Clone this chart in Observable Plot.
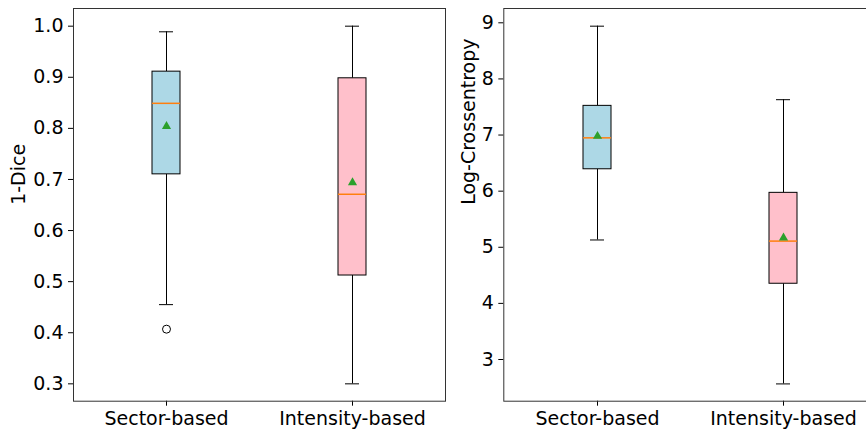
<!DOCTYPE html>
<html><head><meta charset="utf-8">
<script src="https://cdn.jsdelivr.net/npm/d3@7"></script>
<script src="https://cdn.jsdelivr.net/npm/@observablehq/plot@0.6"></script>
<style>
html,body{margin:0;padding:0;background:#fff;overflow:hidden;width:866px;height:430px;}
#wrap{position:relative;width:866px;height:430px;overflow:hidden;}
#wrap svg{position:absolute;top:0;}
</style></head><body><div id="wrap"></div>
<script>
const methods = ["Sector-based", "Intensity-based"];
const boxColors = ["#add8e6", "#ffc0cb"];

// Panel 1: 1-Dice
const diceLow    = [0.455, 0.300];
const diceQ1     = [0.710, 0.512];
const diceMedian = [0.849, 0.671];
const diceQ3     = [0.911, 0.898];
const diceHigh   = [0.989, 1.000];
const diceMean   = [0.804, 0.694];
const diceOutlierMethod = ["Sector-based"];
const diceOutlierValue  = [0.407];
const diceTicks = [0.3, 0.4, 0.5, 0.6, 0.7, 0.8, 0.9, 1.0];

// Panel 2: Log-Crossentropy
const ceLow    = [5.13, 2.565];
const ceQ1     = [6.39, 4.35];
const ceMedian = [6.95, 5.11];
const ceQ3     = [7.52, 5.97];
const ceHigh   = [8.94, 7.63];
const ceMean   = [6.98, 5.17];
const ceTicks = [3, 4, 5, 6, 7, 8, 9];

function rowsOf(lo, q1, med, q3, hi, mean) {
  return methods.map((m, i) => ({method: m, lo: lo[i], q1: q1[i], med: med[i], q3: q3[i], hi: hi[i], mean: mean[i]}));
}

function panel({rows, outliers, yDomain, ticks, tickFormat, label, labelDx, width, marginLeft, marginRight}) {
  return Plot.plot({
    width, height: 430,
    marginLeft, marginRight, marginTop: 8, marginBottom: 29.3,
    style: {fontFamily: "'DejaVu Sans', sans-serif", fontSize: "19px", color: "#000", background: "transparent", overflow: "visible"},
    x: {domain: methods, paddingInner: 0.85, paddingOuter: 0.425, tickSize: 5, tickPadding: 5, label: null},
    y: {domain: yDomain, ticks, tickFormat, tickSize: 5, tickPadding: 5, label: null},
    color: {domain: methods, range: boxColors},
    marks: [
      Plot.ruleX(rows, {x: "method", y1: "lo", y2: "q1", stroke: "#000", strokeWidth: 1}),
      Plot.ruleX(rows, {x: "method", y1: "q3", y2: "hi", stroke: "#000", strokeWidth: 1}),
      Plot.tickY(rows, {x: "method", y: "lo", stroke: "#000", insetLeft: 7, insetRight: 7}),
      Plot.tickY(rows, {x: "method", y: "hi", stroke: "#000", insetLeft: 7, insetRight: 7}),
      Plot.barY(rows, {x: "method", y1: "q1", y2: "q3", fill: "method", stroke: "#000", strokeWidth: 1}),
      Plot.tickY(rows, {x: "method", y: "med", stroke: "#ff7f0e", strokeWidth: 1.5}),
      Plot.dot(rows, {x: "method", y: "mean", symbol: "triangle", fill: "#2ca02c", r: 3.4}),
      Plot.dot(outliers, {x: "method", y: "value", r: 4, stroke: "#000", fill: "none", strokeWidth: 1}),
      Plot.frame({stroke: "#333", strokeWidth: 1}),
      Plot.text([label], {frameAnchor: "left", text: d => d, rotate: -90, dx: labelDx, fill: "#000"})
    ]
  });
}

const wrap = document.getElementById("wrap");

const left = panel({
  rows: rowsOf(diceLow, diceQ1, diceMedian, diceQ3, diceHigh, diceMean),
  outliers: diceOutlierMethod.map((m, i) => ({method: m, value: diceOutlierValue[i]})),
  yDomain: [0.266, 1.0346], ticks: diceTicks, tickFormat: d3.format(".1f"),
  label: "1-Dice", labelDx: -55,
  width: 450, marginLeft: 73, marginRight: 5
});
left.style.left = "0px";
wrap.appendChild(left);

const right = panel({
  rows: rowsOf(ceLow, ceQ1, ceMedian, ceQ3, ceHigh, ceMean),
  outliers: [],
  yDomain: [2.257, 9.255], ticks: ceTicks, tickFormat: d3.format("d"),
  label: "Log-Crossentropy", labelDx: -35,
  width: 440, marginLeft: 63.3, marginRight: 3.7
});
right.style.left = "440px";
wrap.appendChild(right);
</script>
</body></html>
